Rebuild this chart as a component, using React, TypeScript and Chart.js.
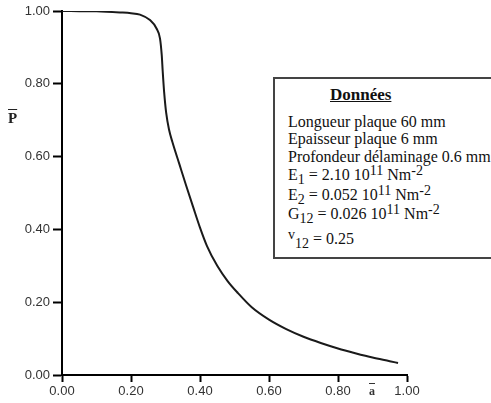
import React, { useEffect, useRef } from "react";
import { Chart, registerables } from "chart.js";

Chart.register(...registerables);

const aValues = [0, 0.05, 0.10, 0.168, 0.20, 0.226, 0.255, 0.274, 0.284, 0.289, 0.292, 0.296, 0.302, 0.31, 0.32, 0.34, 0.36, 0.38, 0.40, 0.42, 0.45, 0.48, 0.51, 0.55, 0.60, 0.65, 0.70, 0.75, 0.80, 0.85, 0.90, 0.95, 0.974];
const pValues = [1.000, 0.9995, 0.999, 0.996, 0.994, 0.99, 0.975, 0.952, 0.925, 0.88, 0.833, 0.778, 0.72, 0.675, 0.64, 0.58, 0.52, 0.462, 0.405, 0.355, 0.30, 0.258, 0.225, 0.186, 0.152, 0.126, 0.105, 0.088, 0.073, 0.06, 0.048, 0.038, 0.033];
const xTicks = [0, 0.2, 0.4, 0.6, 0.8, 1.0];
const yTicks = [0, 0.2, 0.4, 0.6, 0.8, 1.0];

const dataLines = [
  "Longueur plaque 60 mm",
  "Epaisseur plaque 6 mm",
  "Profondeur délaminage 0.6 mm",
];

const serif = "'Liberation Serif', 'Times New Roman', serif";

export default function App() {
  const ref = useRef<HTMLCanvasElement | null>(null);

  useEffect(() => {
    if (!ref.current) return;
    const chart = new Chart(ref.current, {
      type: "line",
      data: {
        datasets: [
          {
            data: aValues.map((x, i) => ({ x, y: pValues[i] })),
            borderColor: "#1a1a1a",
            borderWidth: 2,
            pointRadius: 0,
            fill: false,
            cubicInterpolationMode: "monotone",
          },
        ],
      },
      options: {
        animation: false,
        responsive: false,
        devicePixelRatio: 1,
        layout: { padding: { top: 11, right: 84, left: 0, bottom: 0 } },
        plugins: { legend: { display: false }, tooltip: { enabled: false } },
        scales: {
          x: {
            type: "linear",
            min: 0,
            max: 1,
            afterBuildTicks: (s: any) => {
              s.ticks = xTicks.map((v) => ({ value: v }));
            },
            afterFit: (s: any) => {
              s.height = 28;
            },
            ticks: {
              callback: (v: any) => Number(v).toFixed(2),
              color: "#333",
              padding: 2,
              maxRotation: 0,
              font: { family: "'Liberation Sans', Arial, sans-serif", size: 13 },
            },
            grid: {
              display: true,
              drawOnChartArea: false,
              drawTicks: true,
              tickLength: 7,
              tickColor: "#000",
              tickWidth: 2,
            },
            border: { display: true, color: "#000", width: 2 },
          },
          y: {
            type: "linear",
            min: 0,
            max: 1,
            afterBuildTicks: (s: any) => {
              s.ticks = yTicks.map((v) => ({ value: v }));
            },
            afterFit: (s: any) => {
              s.width = 62;
            },
            ticks: {
              callback: (v: any) => Number(v).toFixed(2),
              color: "#333",
              padding: 3,
              font: { family: "'Liberation Sans', Arial, sans-serif", size: 13 },
            },
            grid: {
              display: true,
              drawOnChartArea: false,
              drawTicks: true,
              tickLength: 9,
              tickColor: "#000",
              tickWidth: 2,
            },
            border: { display: true, color: "#000", width: 2 },
          },
        },
      },
    } as any);
    return () => chart.destroy();
  }, []);

  const sub = (t: string) => (
    <span style={{ fontSize: 14, position: "relative", top: 4 }}>{t}</span>
  );
  const sup = (t: string) => (
    <span style={{ fontSize: 14, position: "relative", top: -5 }}>{t}</span>
  );

  const lineStyle = (top: number): React.CSSProperties => ({
    position: "absolute",
    left: 13,
    top,
    whiteSpace: "nowrap",
    lineHeight: "16px",
  });

  return (
    <div
      style={{
        position: "absolute",
        left: 0,
        top: 0,
        width: 491,
        height: 403,
        overflow: "hidden",
        background: "#fff",
      }}
    >
      <canvas ref={ref} width={491} height={403} style={{ display: "block" }} />
      <div
        style={{
          position: "absolute",
          left: 8,
          top: 110,
          fontFamily: serif,
          fontSize: 15,
          fontWeight: "bold",
          color: "#222",
          textDecoration: "overline",
          lineHeight: "16px",
        }}
      >
        P
      </div>
      <div
        style={{
          position: "absolute",
          left: 369,
          top: 385,
          fontFamily: serif,
          fontSize: 12,
          fontWeight: "bold",
          color: "#333",
          textDecoration: "overline",
          lineHeight: "12px",
        }}
      >
        a
      </div>
      <div
        style={{
          position: "absolute",
          left: 273,
          top: 77,
          width: 240,
          height: 178,
          border: "2px solid #444",
          background: "#fff",
          fontFamily: serif,
          fontSize: 16,
          color: "#111",
        }}
      >
        <div
          style={{
            position: "absolute",
            left: 55,
            top: 7,
            fontWeight: "bold",
            fontSize: 17,
            textDecoration: "underline",
            lineHeight: "18px",
          }}
        >
          Données
        </div>
        <div style={lineStyle(35)}>{dataLines[0]}</div>
        <div style={lineStyle(52)}>{dataLines[1]}</div>
        <div style={lineStyle(70)}>{dataLines[2]}</div>
        <div style={lineStyle(88)}>
          E{sub("1")} = 2.10 10{sup("11")} Nm{sup("-2")}
        </div>
        <div style={lineStyle(108)}>
          E{sub("2")} = 0.052 10{sup("11")} Nm{sup("-2")}
        </div>
        <div style={lineStyle(127)}>
          G{sub("12")} = 0.026 10{sup("11")} Nm{sup("-2")}
        </div>
        <div style={lineStyle(152)}>
          <span style={{ fontSize: 14, position: "relative", top: -5 }}>v</span>
          {sub("12")} = 0.25
        </div>
      </div>
    </div>
  );
}
